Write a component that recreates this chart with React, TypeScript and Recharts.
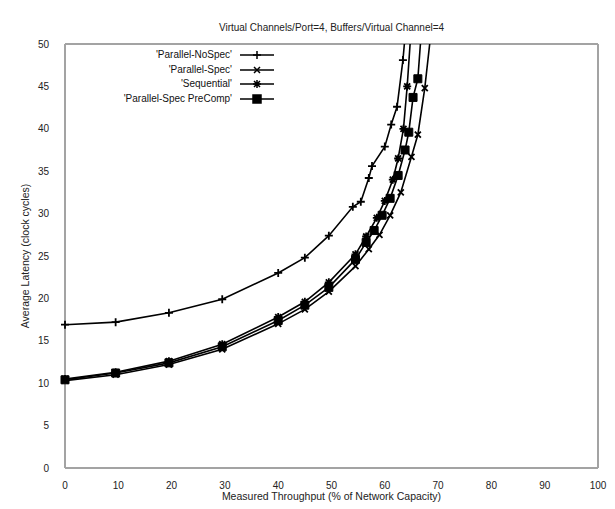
import { LineChart, Line, XAxis, YAxis, ReferenceLine } from "recharts";

// Measured throughput (% of capacity) and latency (cycles) per router scheme
const noSpecX = [0, 9.5, 19.5, 29.5, 40, 45, 49.5, 54, 55.5, 57, 57.6, 60, 61.2, 62.3, 63.4, 64.1];
const noSpecY = [16.9, 17.2, 18.3, 19.9, 23.0, 24.8, 27.4, 30.8, 31.4, 34.2, 35.6, 37.9, 40.5, 42.6, 48.1, 53];

const specX = [0, 9.5, 19.5, 29.5, 40, 45, 49.5, 54.5, 57, 59, 61, 63, 65, 66.2, 67.5, 68.6];
const specY = [10.3, 11.0, 12.2, 14.0, 17.0, 18.7, 20.8, 23.8, 25.8, 27.5, 29.8, 32.5, 36.7, 39.3, 44.8, 51];

const seqX = [0, 9.5, 19.5, 29.5, 40, 45, 49.5, 54.5, 56.5, 58.5, 60, 61.5, 62.5, 63.5, 64.2, 64.8];
const seqY = [10.5, 11.3, 12.6, 14.6, 17.8, 19.6, 21.9, 25.2, 27.3, 29.5, 31.5, 34, 36.5, 40, 45, 50.5];

const preX = [0, 9.5, 19.5, 29.5, 40, 45, 49.5, 54.5, 56.5, 58, 59.5, 61, 62.5, 63.8, 64.5, 65.3, 66.2, 66.8];
const preY = [10.4, 11.2, 12.4, 14.3, 17.4, 19.2, 21.3, 24.6, 26.6, 28, 29.8, 31.8, 34.5, 37.5, 39.6, 43.7, 45.9, 51];

const xTicks = [0, 10, 20, 30, 40, 50, 60, 70, 80, 90, 100];
const yTicks = [0, 5, 10, 15, 20, 25, 30, 35, 40, 45, 50];

const zip = (xs: number[], ys: number[]) => xs.map((x, i) => ({ x, y: ys[i] }));

const FRAME = "#a3a3a3";
const FONT = "'Liberation Sans', Arial, sans-serif";

type Marker = "plus" | "cross" | "star" | "square";

const markerPath = (m: Marker, cx: number, cy: number) => {
  if (m === "plus") return `M${cx - 4},${cy}H${cx + 4}M${cx},${cy - 4}V${cy + 4}`;
  if (m === "cross") return `M${cx - 3},${cy - 3}L${cx + 3},${cy + 3}M${cx - 3},${cy + 3}L${cx + 3},${cy - 3}`;
  if (m === "star")
    return `M${cx - 4},${cy}H${cx + 4}M${cx},${cy - 4}V${cy + 4}M${cx - 3},${cy - 3}L${cx + 3},${cy + 3}M${cx - 3},${cy + 3}L${cx + 3},${cy - 3}`;
  return `M${cx - 4},${cy - 4}h8v8h-8z`;
};

const makeDot = (m: Marker) => (props: any) => {
  const { cx, cy, index } = props;
  if (cx == null || cy == null) return <g key={`d-${index}`} />;
  return (
    <path
      key={`d-${index}`}
      d={markerPath(m, cx, cy)}
      stroke="#000"
      strokeWidth={m === "square" ? 1 : 1.8}
      fill={m === "square" ? "#000" : "none"}
    />
  );
};

const series = [
  { name: "'Parallel-NoSpec'", data: zip(noSpecX, noSpecY), marker: "plus" as Marker },
  { name: "'Parallel-Spec'", data: zip(specX, specY), marker: "cross" as Marker },
  { name: "'Sequential'", data: zip(seqX, seqY), marker: "star" as Marker },
  { name: "'Parallel-Spec PreComp'", data: zip(preX, preY), marker: "square" as Marker },
];

const LegendBox = () => (
  <div style={{ fontFamily: FONT, fontSize: 10, color: "#111", lineHeight: "14.5px" }}>
    {series.map((s) => (
      <div key={s.name} style={{ display: "flex", alignItems: "center", justifyContent: "flex-end" }}>
        <span style={{ textAlign: "right" }}>{s.name}</span>
        <svg width={40} height={14} style={{ marginLeft: 6 }}>
          <line x1={2} y1={7} x2={36} y2={7} stroke="#000" strokeWidth={1.3} />
          <path d={markerPath(s.marker, 19, 7)} stroke="#000" strokeWidth={1.5} fill={s.marker === "square" ? "#000" : "none"} />
        </svg>
      </div>
    ))}
  </div>
);

export default function App() {
  return (
    <div style={{ position: "absolute", left: 0, top: 0, width: 615, height: 509, background: "#fff" }}>
      <div
        style={{
          position: "absolute",
          top: 22,
          left: 65,
          width: 533,
          textAlign: "center",
          fontFamily: FONT,
          fontSize: 10,
          color: "#222",
        }}
      >
        Virtual Channels/Port=4, Buffers/Virtual Channel=4
      </div>
      <LineChart width={615} height={509} margin={{ top: 44, right: 17, bottom: 0, left: 0 }}>
        <XAxis
          type="number"
          dataKey="x"
          domain={[0, 100]}
          ticks={xTicks}
          height={41}
          axisLine={{ stroke: FRAME, strokeWidth: 2 }}
          tickLine={false}
          tickMargin={8}
          tick={{ fontFamily: FONT, fontSize: 10, fill: "#222" }}
        />
        <YAxis
          type="number"
          dataKey="y"
          domain={[0, 50]}
          ticks={yTicks}
          allowDataOverflow
          width={65}
          axisLine={{ stroke: FRAME, strokeWidth: 2 }}
          tickLine={false}
          tickMargin={10}
          tick={{ fontFamily: FONT, fontSize: 10, fill: "#222" }}
        />
        <ReferenceLine y={50} stroke={FRAME} strokeWidth={2} />
        <ReferenceLine x={100} stroke={FRAME} strokeWidth={2} />
        {series.map((s) => (
          <Line
            key={s.name}
            name={s.name}
            data={s.data}
            dataKey="y"
            type="linear"
            stroke="#000"
            strokeWidth={1.6}
            dot={makeDot(s.marker)}
            activeDot={false}
            isAnimationActive={false}
          />
        ))}
      </LineChart>
      <div style={{ position: "absolute", top: 48, left: 60, width: 218 }}>
        <LegendBox />
      </div>
      <div
        style={{
          position: "absolute",
          top: 490,
          left: 65,
          width: 533,
          textAlign: "center",
          fontFamily: FONT,
          fontSize: 10.5,
          color: "#222",
        }}
      >
        Measured Throughput (% of Network Capacity)
      </div>
      <div
        style={{
          position: "absolute",
          left: 25,
          top: 256,
          transform: "translate(-50%, -50%) rotate(-90deg)",
          whiteSpace: "nowrap",
          fontFamily: FONT,
          fontSize: 10.5,
          color: "#222",
        }}
      >
        Average Latency (clock cycles)
      </div>
    </div>
  );
}
